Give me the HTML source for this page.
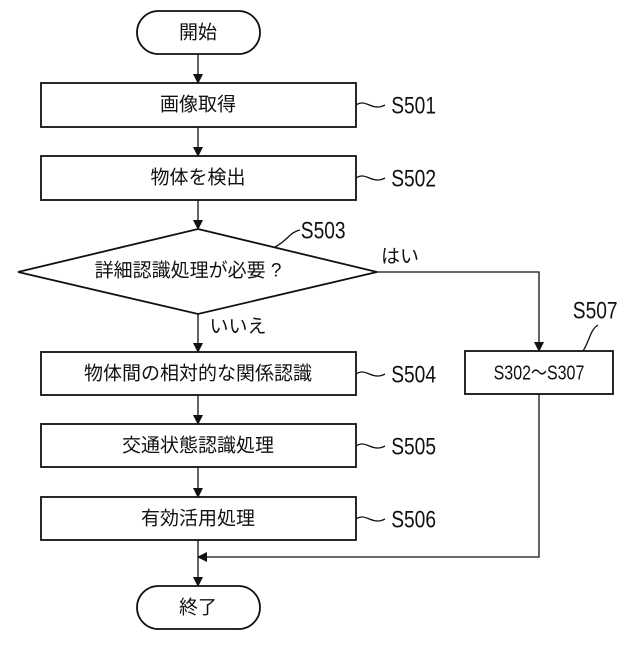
<!DOCTYPE html>
<html><head><meta charset="utf-8"><style>
html,body{margin:0;padding:0;background:#fff}
svg text{font-family:"Liberation Sans","Noto Sans CJK JP",sans-serif;fill:#111}
.t{font-size:19px;text-anchor:middle;dominant-baseline:central}
.l{font-size:24px;dominant-baseline:central}
</style></head><body>
<svg width="640" height="640" viewBox="0 0 640 640" xmlns="http://www.w3.org/2000/svg">
<defs><marker id="a" markerWidth="10" markerHeight="14" refX="9" refY="7" orient="auto" markerUnits="userSpaceOnUse"><path d="M0,2 L10,7 L0,12 z" fill="#111"/></marker></defs>
<g stroke="#111" stroke-width="1.8" fill="none">
<rect x="137" y="11" width="123" height="43" rx="21.5"/>
<rect x="41" y="83" width="315" height="44"/>
<rect x="41" y="156" width="315" height="44"/>
<polygon points="198,229 377,272 198,314 18,272"/>
<rect x="41" y="352" width="315" height="43"/>
<rect x="465" y="351" width="148" height="43"/>
<rect x="41" y="424" width="315" height="43"/>
<rect x="41" y="497" width="315" height="43"/>
<rect x="137" y="586" width="123" height="43" rx="21.5"/>
</g>
<g stroke="#111" stroke-width="1.3" fill="none">
<line x1="198" y1="54" x2="198" y2="83" marker-end="url(#a)"/>
<line x1="198" y1="127" x2="198" y2="156" marker-end="url(#a)"/>
<line x1="198" y1="200" x2="198" y2="229" marker-end="url(#a)"/>
<line x1="198" y1="314" x2="198" y2="352" marker-end="url(#a)"/>
<line x1="198" y1="395" x2="198" y2="424" marker-end="url(#a)"/>
<line x1="198" y1="467" x2="198" y2="497" marker-end="url(#a)"/>
<line x1="198" y1="540" x2="198" y2="586" marker-end="url(#a)"/>
<polyline points="377,272 539,272 539,351" marker-end="url(#a)"/>
<polyline points="539,394 539,557 198,557" marker-end="url(#a)"/>
<path d="M356,105 C366,98 372,112 385,105"/>
<path d="M356,178 C366,171 372,185 385,178"/>
<path d="M356,374 C366,367 372,381 385,374"/>
<path d="M356,446 C366,439 372,453 385,446"/>
<path d="M356,519 C366,512 372,526 385,519"/>
<path d="M275,247 C288,240 290,232 300,230"/>
<path d="M583,351 C590,340 590,330 598,325"/>
</g>
<text class="t" x="198" y="33">開始</text>
<text class="t" x="198" y="105">画像取得</text>
<text class="t" x="198" y="178">物体を検出</text>
<text class="t" x="188" y="271">詳細認識処理が必要 ?</text>
<text class="t" x="198" y="374">物体間の相対的な関係認識</text>
<text class="t" x="198" y="446">交通状態認識処理</text>
<text class="t" x="198" y="519">有効活用処理</text>
<text class="t" x="198" y="608">終了</text>
<text class="t" x="539" y="373" style="font-size:20px" transform="translate(539 0) scale(0.8 1) translate(-539 0)">S302～S307</text>
<text class="t" x="400" y="257">はい</text>
<text class="t" x="238" y="327">いいえ</text>
<g transform="scale(0.8 1)">
<text class="l" x="489" y="105">S501</text>
<text class="l" x="489" y="178">S502</text>
<text class="l" x="376" y="230">S503</text>
<text class="l" x="489" y="374">S504</text>
<text class="l" x="489" y="446">S505</text>
<text class="l" x="489" y="519">S506</text>
<text class="l" x="716" y="310">S507</text>
</g>
</svg>
</body></html>
